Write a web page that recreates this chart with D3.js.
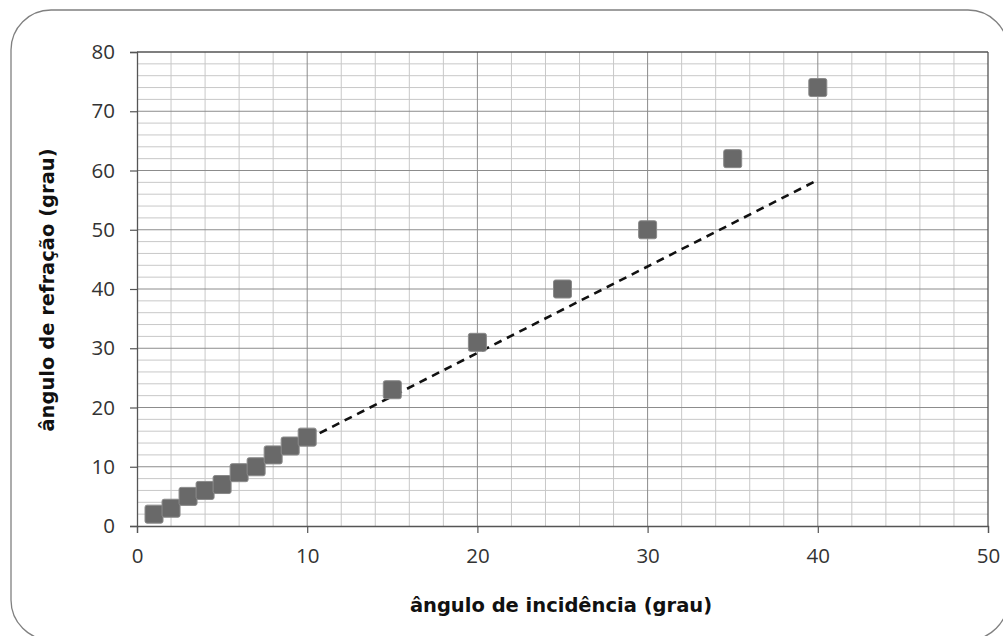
<!DOCTYPE html>
<html lang="pt">
<head>
<meta charset="UTF-8">
<title>ângulo de refração x ângulo de incidência</title>
<script src="https://d3js.org/d3.v7.min.js"></script>
<style>
    body { margin: 0; background: #fff; }
    svg { display: block; }
    .tick text { font-family: "Open Sans", sans-serif; font-size: 20.5px; fill: #333; }
    .title { font-family: "DejaVu Sans", sans-serif; font-weight: bold; font-size: 19.5px; fill: #111; }
</style>
</head>
<body>
<svg id="chart" width="1003" height="636"></svg>
<script>
    // dados
    const incidencia = [1, 2, 3, 4, 5, 6, 7, 8, 9, 10, 15, 20, 25, 30, 35, 40];
    const refracao   = [2, 3, 5, 6, 7, 9, 10, 12, 13.5, 15, 23, 31, 40, 50, 62, 74];
    // reta tracejada (tendência dos ângulos pequenos)
    const retaX = [10, 40];
    const retaY = [14.6, 58.4];
    const xTicks = [0, 10, 20, 30, 40, 50];
    const yTicks = [0, 10, 20, 30, 40, 50, 60, 70, 80];

    const svg = d3.select("#chart");
    const mLeft = 137, mRight = 988, mTop = 52, mBottom = 526;

    const x = d3.scaleLinear().domain([0, 50]).range([mLeft, mRight]);
    const y = d3.scaleLinear().domain([0, 80]).range([mBottom, mTop]);

    // moldura arredondada
    svg.append("rect")
        .attr("x", 11).attr("y", 10)
        .attr("width", 997).attr("height", 630)
        .attr("rx", 40)
        .attr("fill", "none")
        .attr("stroke", "#808080")
        .attr("stroke-width", 1.3);

    // grade secundária (a cada 2)
    const grid = svg.append("g");
    grid.selectAll(".vmin").data(d3.range(2, 50, 2).filter(d => d % 10))
        .join("line")
        .attr("x1", d => x(d)).attr("x2", d => x(d))
        .attr("y1", mTop).attr("y2", mBottom)
        .attr("stroke", "#c8c8c8");
    grid.selectAll(".hmin").data(d3.range(2, 80, 2).filter(d => d % 10))
        .join("line")
        .attr("y1", d => y(d)).attr("y2", d => y(d))
        .attr("x1", mLeft).attr("x2", mRight)
        .attr("stroke", "#c8c8c8");

    // grade principal
    grid.selectAll(".vmaj").data(xTicks.slice(1, -1))
        .join("line")
        .attr("x1", d => x(d)).attr("x2", d => x(d))
        .attr("y1", mTop).attr("y2", mBottom)
        .attr("stroke", "#8c8c8c");
    grid.selectAll(".hmaj").data(yTicks.slice(1, -1))
        .join("line")
        .attr("y1", d => y(d)).attr("y2", d => y(d))
        .attr("x1", mLeft).attr("x2", mRight)
        .attr("stroke", "#8c8c8c");

    // borda superior e direita
    svg.append("line")
        .attr("x1", mLeft).attr("x2", mRight).attr("y1", mTop).attr("y2", mTop)
        .attr("stroke", "#555").attr("stroke-width", 1.3);
    svg.append("line")
        .attr("x1", mRight).attr("x2", mRight).attr("y1", mTop).attr("y2", mBottom)
        .attr("stroke", "#555").attr("stroke-width", 1.3);

    // eixos
    const xAxis = svg.append("g")
        .attr("transform", `translate(0,${mBottom})`)
        .call(d3.axisBottom(x).tickValues(xTicks).tickSize(7).tickPadding(15));
    const yAxis = svg.append("g")
        .attr("transform", `translate(${mLeft},0)`)
        .call(d3.axisLeft(y).tickValues(yTicks).tickSize(7).tickPadding(15));
    [xAxis, yAxis].forEach(a => {
        a.select(".domain").attr("stroke", "#555").attr("stroke-width", 1.3);
        a.selectAll(".tick line").attr("stroke", "#555").attr("stroke-width", 1.2);
    });

    // reta tracejada
    svg.append("path")
        .datum(retaX.map((d, i) => [d, retaY[i]]))
        .attr("d", d3.line().x(d => x(d[0])).y(d => y(d[1])))
        .attr("fill", "none")
        .attr("stroke", "#111")
        .attr("stroke-width", 2.6)
        .attr("stroke-dasharray", "8,6");

    // pontos
    const s = 18;
    svg.append("g").selectAll("rect")
        .data(incidencia.map((d, i) => [d, refracao[i]]))
        .join("rect")
        .attr("x", d => x(d[0]) - s / 2)
        .attr("y", d => y(d[1]) - s / 2)
        .attr("width", s).attr("height", s)
        .attr("rx", 2)
        .attr("fill", "#696969")
        .attr("stroke", "#8a8a8a")
        .attr("stroke-width", 1);

    // títulos dos eixos
    svg.append("text").attr("class", "title")
        .attr("x", 561).attr("y", 612)
        .attr("text-anchor", "middle")
        .text("ângulo de incidência (grau)");
    svg.append("text").attr("class", "title")
        .attr("transform", "translate(54,290) rotate(-90)")
        .attr("text-anchor", "middle")
        .text("ângulo de refração (grau)");
</script>
</body>
</html>
